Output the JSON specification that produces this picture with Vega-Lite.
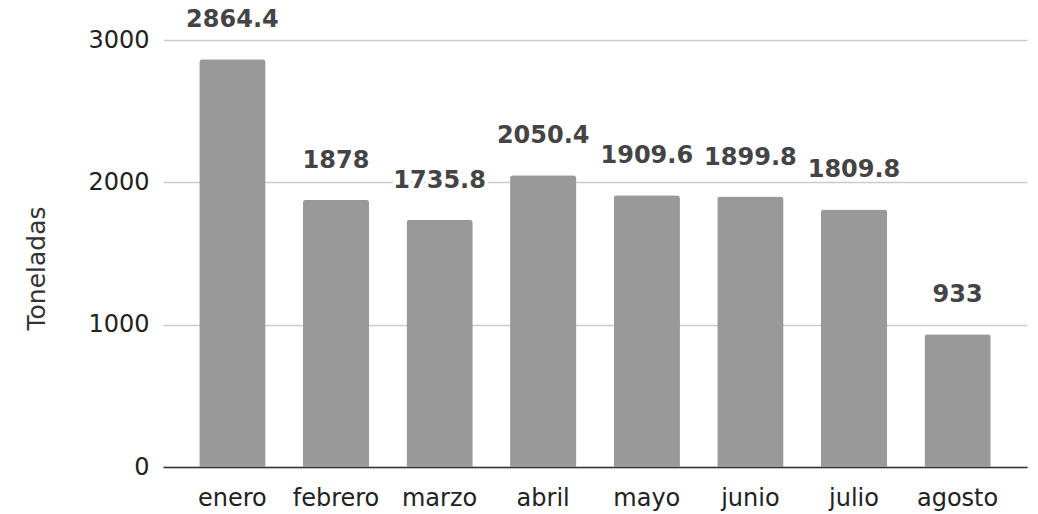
{
  "$schema": "https://vega.github.io/schema/vega-lite/v6.json",
  "autosize": "none",
  "padding": {"left": 163, "top": 40, "right": 11, "bottom": 47},
  "width": 864,
  "height": 427,
  "background": "white",
  "config": {
    "font": "DejaVu Sans",
    "view": {"stroke": null}
  },
  "data": {
    "values": [
      {"mes": "enero", "toneladas": 2864.4, "label": "2864.4"},
      {"mes": "febrero", "toneladas": 1878, "label": "1878"},
      {"mes": "marzo", "toneladas": 1735.8, "label": "1735.8"},
      {"mes": "abril", "toneladas": 2050.4, "label": "2050.4"},
      {"mes": "mayo", "toneladas": 1909.6, "label": "1909.6"},
      {"mes": "junio", "toneladas": 1899.8, "label": "1899.8"},
      {"mes": "julio", "toneladas": 1809.8, "label": "1809.8"},
      {"mes": "agosto", "toneladas": 933, "label": "933"}
    ]
  },
  "encoding": {
    "x": {
      "field": "mes",
      "type": "nominal",
      "sort": null,
      "scale": {"paddingInner": 0.36, "paddingOuter": 0.35},
      "axis": {
        "title": null,
        "labelAngle": 0,
        "labelFontSize": 24,
        "labelColor": "#222222",
        "labelPadding": 19,
        "ticks": false,
        "domainColor": "#333333",
        "domainWidth": 1.5,
        "grid": false
      }
    },
    "y": {
      "field": "toneladas",
      "type": "quantitative",
      "scale": {"domain": [0, 3000], "nice": false},
      "axis": {
        "title": "Toneladas",
        "titleFontSize": 25,
        "titleFontWeight": "normal",
        "titleColor": "#333333",
        "titlePadding": 38,
        "titleY": 228,
        "values": [0, 1000, 2000, 3000],
        "format": "d",
        "labelFontSize": 24,
        "labelColor": "#222222",
        "labelPadding": 14,
        "ticks": false,
        "domain": false,
        "gridColor": "#cccccc",
        "gridWidth": 1.5
      }
    }
  },
  "layer": [
    {
      "mark": {"type": "bar", "color": "#999999", "cornerRadiusTopLeft": 3, "cornerRadiusTopRight": 3}
    },
    {
      "mark": {"type": "text", "fontSize": 24, "fontWeight": "bold", "baseline": "alphabetic", "dy": -32, "stroke": "white", "strokeWidth": 6, "fill": "white"},
      "encoding": {"text": {"field": "label"}}
    },
    {
      "mark": {"type": "text", "fontSize": 24, "fontWeight": "bold", "baseline": "alphabetic", "dy": -32, "color": "#444444"},
      "encoding": {"text": {"field": "label"}}
    }
  ]
}
